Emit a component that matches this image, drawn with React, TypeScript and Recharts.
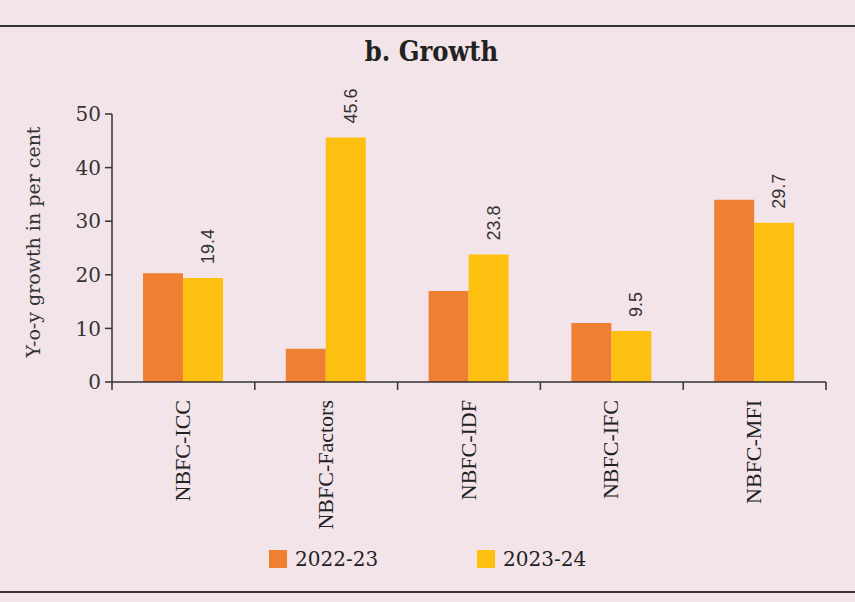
import React from 'react';
import { BarChart, Bar, XAxis, YAxis, Legend, LabelList } from 'recharts';

const categories = ['NBFC-ICC', 'NBFC-Factors', 'NBFC-IDF', 'NBFC-IFC', 'NBFC-MFI'];
const growth2223 = [20.3, 6.2, 17.0, 11.0, 34.0];
const growth2324 = [19.4, 45.6, 23.8, 9.5, 29.7];
const yTicks = [0, 10, 20, 30, 40, 50];

const data = categories.map((c, i) => ({ name: c, a: growth2223[i], b: growth2324[i] }));

const BG = '#f3e4ea';
const ORANGE = '#ef7f31';
const YELLOW = '#fec010';

const CatTick = (props: any) => {
  const { x, y, payload, index, width } = props;
  const band = width / categories.length;
  const ty = y + 10;
  return (
    <g>
      {index === 0 && <line x1={x - band / 2} x2={x - band / 2} y1={y - 8} y2={y} stroke="#333" strokeWidth={1.5} />}
      <line x1={x + band / 2} x2={x + band / 2} y1={y - 8} y2={y} stroke="#333" strokeWidth={1.5} />
      <text
        x={x - 1}
        y={ty}
        transform={`rotate(-90 ${x - 1} ${ty})`}
        textAnchor="end"
        dominantBaseline="central"
        fontFamily="'Liberation Serif', serif"
        fontSize={22}
        fill="#222"
      >
        {payload.value}
      </text>
    </g>
  );
};

const ValueLabel = (props: any) => {
  const { x, y, width, value } = props;
  const cx = x + width / 2 + 5;
  const ty = y - 14;
  return (
    <text
      x={cx}
      y={ty}
      transform={`rotate(-90 ${cx} ${ty})`}
      textAnchor="start"
      dominantBaseline="central"
      fontFamily="'Liberation Sans', Arial, sans-serif"
      fontSize={18}
      fill="#333"
    >
      {value.toFixed(1)}
    </text>
  );
};

const LegendContent = () => (
  <div style={{ position: 'relative', width: 855, height: 24 }}>
    {[{ c: ORANGE, t: '2022-23', x: 269 }, { c: YELLOW, t: '2023-24', x: 477 }].map((it) => (
      <div key={it.t} style={{ position: 'absolute', left: it.x, top: 0, display: 'flex', alignItems: 'center' }}>
        <div style={{ width: 18, height: 18, background: it.c, marginRight: 8 }} />
        <span style={{ fontFamily: "'DejaVu Serif', serif", fontSize: 20, color: '#222' }}>{it.t}</span>
      </div>
    ))}
  </div>
);

export default function App() {
  return (
    <div style={{ position: 'absolute', left: 0, top: 0, width: 855, height: 602, background: BG, overflow: 'hidden' }}>
      <div style={{ position: 'absolute', left: 0, top: 25, width: 855, height: 2, background: '#333' }} />
      <div style={{ position: 'absolute', left: 0, top: 591, width: 855, height: 2, background: '#333' }} />
      <div
        style={{
          position: 'absolute',
          left: 0,
          top: 36,
          width: 855,
          textAlign: 'center',
          fontFamily: "'DejaVu Serif Condensed', 'DejaVu Serif', serif",
          fontWeight: 'bold',
          fontSize: 27,
          color: '#222',
          paddingLeft: 4,
        }}
      >
        b. Growth
      </div>
      <div style={{ position: 'absolute', left: 0, top: 0 }}>
        <BarChart
          width={855}
          height={602}
          data={data}
          margin={{ top: 114, right: 29, bottom: 90, left: 52 }}
          barGap={0}
          barCategoryGap="21.7%"
        >
          <XAxis
            dataKey="name"
            height={130}
            tick={<CatTick />}
            tickLine={false}
            axisLine={{ stroke: '#333', strokeWidth: 1.5 }}
            interval={0}
          />
          <YAxis
            width={60}
            domain={[0, 50]}
            ticks={yTicks}
            tickSize={7}
            tickMargin={4}
            tick={{ fontFamily: "'DejaVu Serif', serif", fontSize: 20, fill: '#333' }}
            tickLine={{ stroke: '#333', strokeWidth: 1.5 }}
            axisLine={{ stroke: '#333', strokeWidth: 1.5 }}
            label={() => (
              <text
                x={33}
                y={242}
                transform="rotate(-90 33 242)"
                textAnchor="middle"
                dominantBaseline="central"
                fontFamily="'DejaVu Serif', serif"
                fontSize={19}
                fill="#333"
              >
                Y-o-y growth in per cent
              </text>
            )}
          />
          <Legend
            layout="horizontal"
            verticalAlign="middle"
            align="center"
            wrapperStyle={{ top: 547, left: 0, width: 855, height: 24 }}
            content={<LegendContent />}
          />
          <Bar dataKey="a" name="2022-23" fill={ORANGE} isAnimationActive={false} />
          <Bar dataKey="b" name="2023-24" fill={YELLOW} isAnimationActive={false}>
            <LabelList dataKey="b" content={<ValueLabel />} />
          </Bar>
        </BarChart>
      </div>
    </div>
  );
}
